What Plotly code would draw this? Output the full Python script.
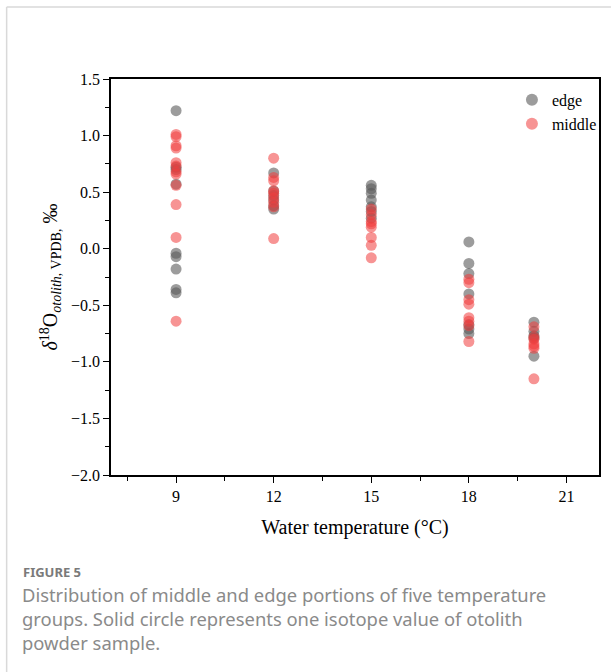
import plotly.graph_objects as go

temps = [9, 12, 15, 18, 20]
edge_vals = {
    9: [1.22, 0.72, 0.70, 0.57, -0.04, -0.07, -0.18, -0.36, -0.39],
    12: [0.67, 0.51, 0.47, 0.43, 0.38, 0.35],
    15: [0.56, 0.53, 0.49, 0.43, 0.37, 0.33, 0.27],
    18: [0.06, -0.13, -0.22, -0.40, -0.67, -0.71, -0.75],
    20: [-0.65, -0.73, -0.77, -0.79, -0.95],
}
middle_vals = {
    9: [1.01, 0.99, 0.91, 0.89, 0.76, 0.73, 0.68, 0.66, 0.56, 0.39, 0.10, -0.64],
    12: [0.80, 0.63, 0.60, 0.51, 0.49, 0.45, 0.41, 0.37, 0.09],
    15: [0.35, 0.30, 0.24, 0.22, 0.19, 0.10, 0.03, -0.08],
    18: [-0.27, -0.30, -0.45, -0.49, -0.61, -0.64, -0.68, -0.82],
    20: [-0.69, -0.78, -0.80, -0.84, -0.86, -0.88, -1.15],
}
x_ticks = [9, 12, 15, 18, 21]
y_ticks = [1.5, 1.0, 0.5, 0.0, -0.5, -1.0, -1.5, -2.0]

def flatten(d):
    xs, ys = [], []
    for t in temps:
        for v in d[t]:
            xs.append(t)
            ys.append(v)
    return xs, ys

ex, ey = flatten(edge_vals)
mx, my = flatten(middle_vals)

fig = go.Figure()
fig.add_trace(go.Scatter(x=ex, y=ey, mode="markers", name="edge",
                         marker=dict(size=11, color="rgba(90,90,90,0.6)", line=dict(width=0))))
fig.add_trace(go.Scatter(x=mx, y=my, mode="markers", name="middle",
                         marker=dict(size=11, color="rgba(240,60,60,0.55)", line=dict(width=0))))

serif = "Liberation Serif, Times New Roman, serif"
W, H = 614, 672
L, R, T, B = 111, 12, 79, 197
pw = W - L - R
ph = H - T - B

def px(x):
    return (x - L) / pw

def py(y):
    return (H - B - y) / ph

fig.update_layout(
    width=W, height=H,
    margin=dict(l=L, r=R, t=T, b=B),
    paper_bgcolor="white", plot_bgcolor="white",
    font=dict(family=serif, size=16, color="black"),
    showlegend=True,
    legend=dict(x=1.006, y=0.99, xanchor="right", yanchor="top",
                bgcolor="rgba(0,0,0,0)", font=dict(family=serif, size=16),
                itemsizing="constant", tracegroupgap=0),
    xaxis=dict(range=[7, 22], tickmode="array", tickvals=x_ticks,
               ticks="outside", ticklen=6, tickwidth=1.2, tickcolor="black",
               minor=dict(tickvals=[7.5, 10.5, 13.5, 16.5, 19.5], ticks="outside", ticklen=4, tickwidth=1.2, tickcolor="black"),
               showline=True, linecolor="black", linewidth=1.5, mirror=True,
               showgrid=False, zeroline=False,
               tickfont=dict(family=serif, size=16),
               title=dict(text="Water temperature (°C)", font=dict(family=serif, size=20), standoff=16)),
    yaxis=dict(range=[-2.0, 1.5], tickmode="array", tickvals=y_ticks, tickformat=".1f",
               ticks="outside", ticklen=6, tickwidth=1.2, tickcolor="black",
               minor=dict(tickvals=[1.25, 0.75, 0.25, -0.25, -0.75, -1.25, -1.75], ticks="outside", ticklen=4, tickwidth=1.2, tickcolor="black"),
               showline=True, linecolor="black", linewidth=1.5, mirror=True,
               showgrid=False, zeroline=False,
               tickfont=dict(family=serif, size=16),
               title=dict(text="<i>δ</i><sup>18</sup>O<sub><i>otolith</i>, VPDB,</sub> ‰",
                          font=dict(family=serif, size=20), standoff=8)),
)

# card border (top and left)
fig.add_shape(type="line", xref="paper", yref="paper", x0=px(6), x1=px(W), y0=py(7), y1=py(7),
              line=dict(color="#d9d9d9", width=1.5))
fig.add_shape(type="line", xref="paper", yref="paper", x0=px(6), x1=px(6), y0=py(7), y1=py(H),
              line=dict(color="#d9d9d9", width=1.5))

cap_font = "Noto Sans, Open Sans, sans-serif"
fig.add_annotation(text="<b>FIGURE 5</b>", xref="paper", yref="paper", x=px(20), y=py(572),
                   xanchor="left", yanchor="middle", showarrow=False,
                   font=dict(family=cap_font, size=13, color="#7a7a7a"))
cap_lines = [
    "Distribution of middle and edge portions of five temperature",
    "groups. Solid circle represents one isotope value of otolith",
    "powder sample.",
]
for i, line in enumerate(cap_lines):
    fig.add_annotation(text=line, xref="paper", yref="paper", x=px(19), y=py(594 + 24 * i),
                       xanchor="left", yanchor="middle", showarrow=False,
                       font=dict(family=cap_font, size=18.4, color="#8a8a8a"))

fig.write_html("out.html")
